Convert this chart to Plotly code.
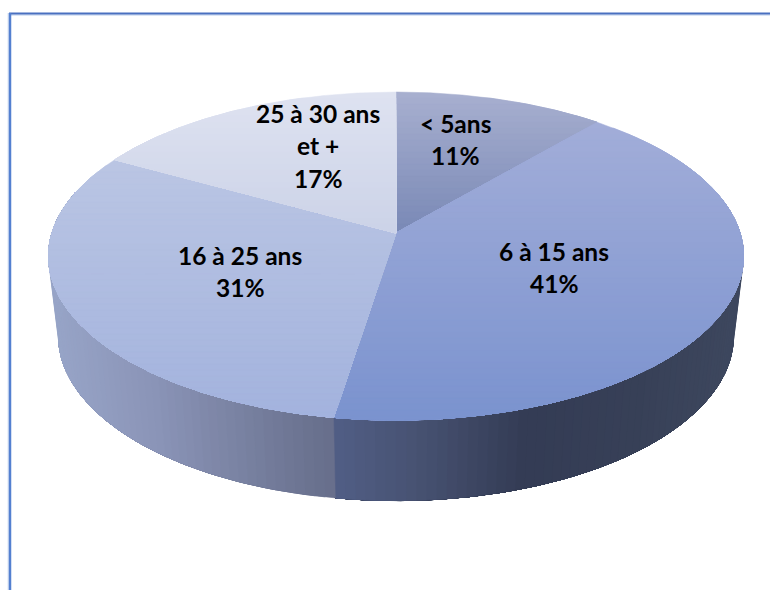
import numpy as np
import plotly.graph_objects as go

# ---- data ----
categories = ["< 5ans", "6 à 15 ans", "16 à 25 ans", "25 à 30 ans et +"]
values = [11.2, 41.3, 30.6, 16.9]
percent_labels = ["11%", "41%", "31%", "17%"]

# ---- projection of the tilted disc ----
CX, CY, A, B, P = 396.0, 233.0, 344.0, 160.8, 0.1404
DEPTH, SHRINK = 80.5, 0.971


def project(theta):
    u, v = np.sin(theta), np.cos(theta)
    w = 1 + P * v
    return CX + A * u / w, CY - B * v / w


def clip_below(pts, edge):
    out = []
    for i in range(len(pts)):
        a, b = pts[i], pts[(i + 1) % len(pts)]
        ia, ib = a[1] >= edge, b[1] >= edge
        if ia:
            out.append(a)
        if ia != ib:
            t = (edge - a[1]) / (b[1] - a[1])
            out.append((a[0] + t * (b[0] - a[0]), edge))
    return out


def mix(stops, t):
    xs = [s[0] for s in stops]
    return "rgb(%d,%d,%d)" % tuple(np.interp(t, xs, [s[1][k] for s in stops]) for k in range(3))


top_stops = [
    [(92, (168, 176, 208)), (233, (122, 137, 182))],
    [(120, (163, 174, 217)), (420, (123, 147, 207))],
    [(160, (187, 198, 228)), (420, (163, 179, 222))],
    [(92, (223, 227, 241)), (233, (204, 211, 232))],
]
side_stops = [
    [(0, (60, 70, 95)), (770, (60, 70, 95))],
    [(333, (82, 95, 135)), (420, (72, 83, 115)), (530, (52, 60, 85)), (650, (56, 65, 88)), (745, (62, 72, 95))],
    [(48, (152, 165, 200)), (150, (140, 150, 185)), (333, (104, 111, 140))],
    [(0, (150, 160, 195)), (770, (150, 160, 195))],
]

fracs = np.cumsum([0] + values) / sum(values)
angles = fracs * 2 * np.pi

fig = go.Figure()


def add_poly(xs, ys, color, lw=0.5):
    fig.add_trace(go.Scatter(x=list(xs), y=list(ys), mode="lines", fill="toself", fillcolor=color,
                             line=dict(color=color, width=lw), hoverinfo="skip", showlegend=False))


# side wall: each piece runs on to the end of its slice and is painted over by the next
for i in range(len(values)):
    lo, hi = max(angles[i], np.radians(75)), min(angles[i + 1], np.radians(285))
    if hi <= lo:
        continue
    n = max(2, int(np.degrees(hi - lo) / 1.5))
    starts = np.linspace(lo, hi, n + 1)[:-1]
    for a in starts:
        seg = np.linspace(a, hi, 200)
        x, y = project(seg)
        xb = CX + (x - CX) * SHRINK
        yb = y + DEPTH
        add_poly(np.r_[x, xb[::-1], x[0]], np.r_[y, yb[::-1], y[0]], mix(side_stops[i], x[0]))

# top face: nested pieces painted from the top of the slice downward, for the vertical gradient
for i in range(len(values)):
    th = np.linspace(angles[i], angles[i + 1], 240)
    x, y = project(th)
    poly = [(CX, CY)] + list(zip(x, y))
    ymin, ymax = min(p[1] for p in poly), max(p[1] for p in poly)
    for y0 in np.arange(ymin, ymax, 6):
        piece = clip_below(poly, y0)
        if len(piece) < 3:
            continue
        px = [p[0] for p in piece] + [piece[0][0]]
        py = [p[1] for p in piece] + [piece[0][1]]
        add_poly(px, py, mix(top_stops[i], y0 + 3))

# labels
label_lines = [
    [categories[0], percent_labels[0]],
    [categories[1], percent_labels[1]],
    [categories[2], percent_labels[2]],
    ["25 à 30 ans", "et +", percent_labels[3]],
]
label_pos = [(455, 123), (554, 251), (240, 255), (318, 113)]
for lines, (lx, ly) in zip(label_lines, label_pos):
    for j, t in enumerate(lines):
        fig.add_annotation(x=lx, y=ly + j * 32.7, text="<b>%s</b>" % t, showarrow=False,
                           xanchor="center", yanchor="middle",
                           font=dict(family="Lato", size=24.5, color="#000000"))

# frame
fig.add_shape(type="line", x0=8, x1=770, y0=15, y1=15, line=dict(color="#dbe5f5", width=2), layer="below")
fig.add_shape(type="line", x0=8.5, x1=8.5, y0=13, y1=590, line=dict(color="#dbe5f5", width=2), layer="below")
fig.add_shape(type="line", x0=9, x1=770, y0=13.5, y1=13.5, line=dict(color="#4a70c0", width=2), layer="below")
fig.add_shape(type="line", x0=10, x1=10, y0=13, y1=590, line=dict(color="#5480d0", width=2.5), layer="below")

fig.update_layout(
    width=770, height=590, autosize=False,
    margin=dict(l=0, r=0, t=0, b=0),
    paper_bgcolor="white", plot_bgcolor="white", showlegend=False,
    xaxis=dict(range=[0, 770], visible=False, fixedrange=True),
    yaxis=dict(range=[590, 0], visible=False, fixedrange=True),
)
fig.write_html("out.html", config=dict(displayModeBar=False),
               post_script="document.body.style.margin='0';document.documentElement.style.overflow='hidden';")
